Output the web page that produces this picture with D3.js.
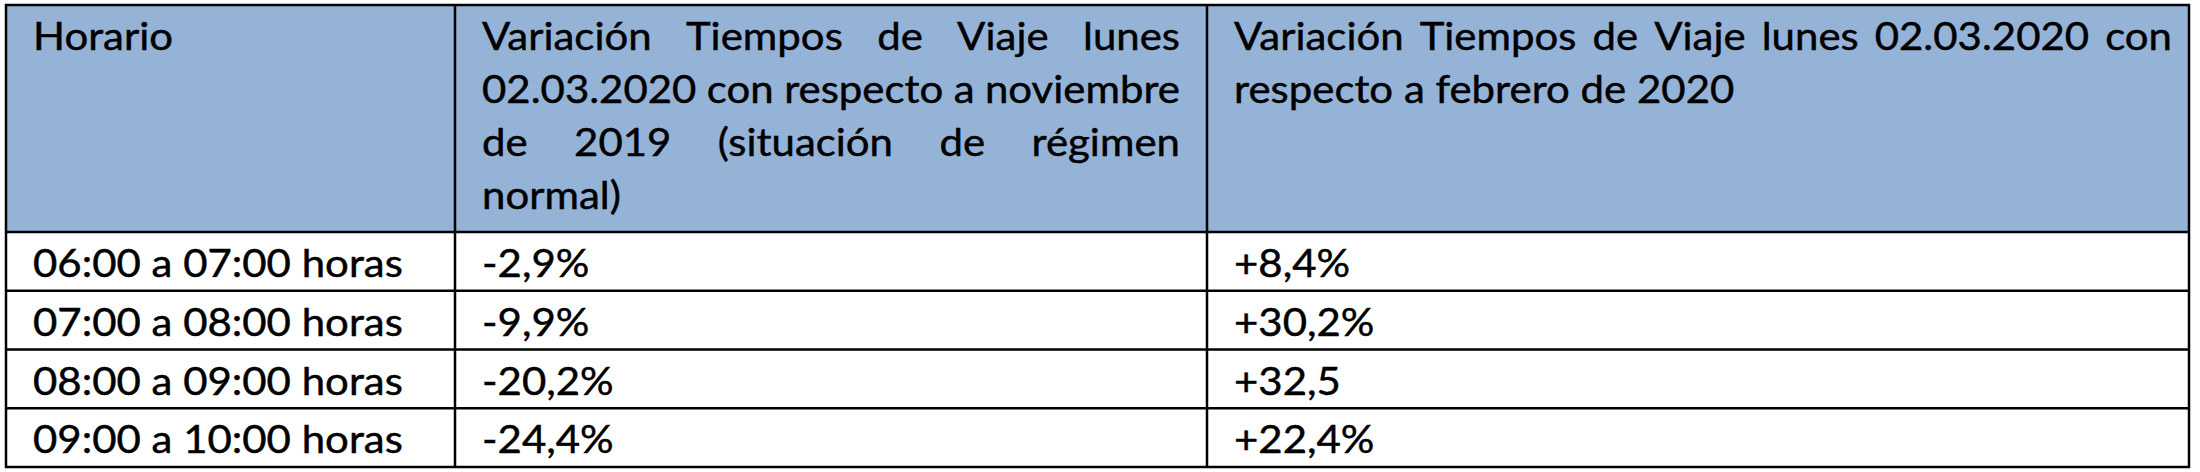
<!DOCTYPE html>
<html>
<head>
<meta charset="utf-8">
<script src="https://cdn.jsdelivr.net/npm/d3@7"></script>
<style>
  html, body { margin: 0; padding: 0; background: #fff; }
  text { font-family: Lato, "Open Sans", sans-serif; fill: #000; stroke: #000; stroke-width: 0.45px; }
</style>
</head>
<body>
<svg id="tabla"></svg>
<script>
// table content
const horarios = ['06:00 a 07:00 horas', '07:00 a 08:00 horas', '08:00 a 09:00 horas', '09:00 a 10:00 horas'];
const varNoviembre = ['-2,9%', '-9,9%', '-20,2%', '-24,4%'];
const varFebrero = ['+8,4%', '+30,2%', '+32,5', '+22,4%'];

// header lines as they wrap in the original
const headHorario = ['Horario'];
const headNoviembre = ['Variación Tiempos de Viaje lunes', '02.03.2020 con respecto a noviembre', 'de 2019 (situación de régimen', 'normal)'];
const headFebrero = ['Variación Tiempos de Viaje lunes 02.03.2020 con', 'respecto a febrero de 2020'];

const WIDTH = 2200, HEIGHT = 472;
const TOP = 5, HEAD_BOTTOM = 232, BOTTOM = 467;
const COLS = [6, 455, 1207, 2189];
const PAD = 27;
const FONT = 38;
const LINE = 53;
const HEAD_FILL = '#95b3d7';

const svg = d3.select('#tabla').attr('width', WIDTH).attr('height', HEIGHT);

const y = d3.scaleBand().domain(horarios).range([HEAD_BOTTOM, BOTTOM]);

// Calibri is narrower than anything installed, so squeeze text horizontally
const probe = svg.append('text').style('font-size', FONT + 'px').text(horarios[0]);
const k = 370 / probe.node().getComputedTextLength();
probe.remove();

svg.append('rect')
    .attr('x', COLS[0]).attr('y', TOP)
    .attr('width', COLS[3] - COLS[0]).attr('height', HEAD_BOTTOM - TOP)
    .style('fill', HEAD_FILL);

const textLayer = svg.append('g');

function putText(str, x, yy) {
    return textLayer.append('text')
        .attr('transform', `translate(${x},${yy}) scale(${k},1)`)
        .style('font-size', FONT + 'px')
        .text(str);
}

// justified line: words spread between x0 and x1
function putJustified(str, x0, x1, yy) {
    const words = str.split(' ');
    const nodes = words.map(w => putText(w, 0, yy));
    const widths = nodes.map(n => n.node().getComputedTextLength() * k);
    const gap = (x1 - x0 - d3.sum(widths)) / (words.length - 1);
    let x = x0;
    nodes.forEach((n, i) => {
        n.attr('transform', `translate(${x},${yy}) scale(${k},1)`);
        x += widths[i] + gap;
    });
}

const BASE0 = TOP + 45;

headHorario.forEach((l, i) => putText(l, COLS[0] + PAD, BASE0 + i * LINE));
headNoviembre.forEach((l, i) => {
    const yy = BASE0 + i * LINE;
    if (i < headNoviembre.length - 1) putJustified(l, COLS[1] + PAD, COLS[2] - PAD, yy);
    else putText(l, COLS[1] + PAD, yy);
});
headFebrero.forEach((l, i) => {
    const yy = BASE0 + i * LINE;
    if (i === 0) putJustified(l, COLS[2] + PAD, COLS[3] - 17, yy);
    else putText(l, COLS[2] + PAD, yy);
});

horarios.forEach((h, i) => {
    const yy = y(h) + 45;
    putText(h, COLS[0] + PAD, yy);
    putText(varNoviembre[i], COLS[1] + PAD, yy);
    putText(varFebrero[i], COLS[2] + PAD, yy);
});

// grid lines
const grid = svg.append('g').style('stroke', '#000').style('stroke-width', 2.5).style('fill', 'none');
grid.append('rect')
    .attr('x', COLS[0]).attr('y', TOP)
    .attr('width', COLS[3] - COLS[0]).attr('height', BOTTOM - TOP);
grid.selectAll('line.v').data(COLS.slice(1, 3)).join('line')
    .attr('x1', d => d).attr('x2', d => d)
    .attr('y1', TOP).attr('y2', BOTTOM);
grid.selectAll('line.h').data(horarios).join('line')
    .attr('x1', COLS[0]).attr('x2', COLS[3])
    .attr('y1', d => y(d)).attr('y2', d => y(d));
</script>
</body>
</html>
